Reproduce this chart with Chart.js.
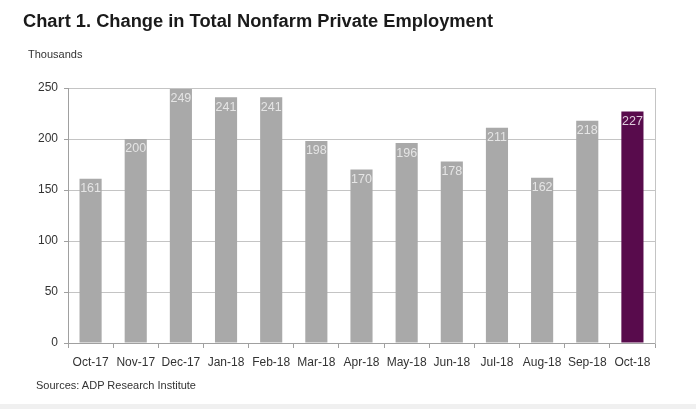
<!DOCTYPE html>
<html>
<head>
<meta charset="utf-8">
<script src="https://cdn.jsdelivr.net/npm/chart.js@4"></script>
<style>
  html, body { margin: 0; padding: 0; background: #fff; }
  body { width: 696px; height: 409px; position: relative; overflow: hidden; font-family: "Liberation Sans", Arial, sans-serif; }
  #wrap { position: absolute; left: 0; top: 0; width: 696px; height: 409px; }
  .title { position: absolute; left: 23px; top: 10px; font-size: 18.3px; font-weight: bold; color: #1a1a1a; white-space: nowrap; }
  .units { position: absolute; left: 28px; top: 48px; font-size: 11px; color: #333; }
  .source { position: absolute; left: 36px; top: 379px; font-size: 11px; color: #333; }
  .strip { position: absolute; left: 0; bottom: 0; width: 696px; height: 5px; background: #f0f0f0; }
</style>
</head>
<body>
<div id="wrap"><canvas id="employmentChart" width="696" height="409"></canvas></div>
<div class="title">Chart 1. Change in Total Nonfarm Private Employment</div>
<div class="units">Thousands</div>
<div class="source">Sources: ADP Research Institute</div>
<div class="strip"></div>
<script>
// Monthly change, thousands
const months = ['Oct-17', 'Nov-17', 'Dec-17', 'Jan-18', 'Feb-18', 'Mar-18', 'Apr-18', 'May-18', 'Jun-18', 'Jul-18', 'Aug-18', 'Sep-18', 'Oct-18'];
const jobs = [161, 200, 249, 241, 241, 198, 170, 196, 178, 211, 162, 218, 227];
const yTicks = [0, 50, 100, 150, 200, 250];

const barColors = jobs.map((v, i) => i === jobs.length - 1 ? '#580b4c' : '#a9a9a9');

// value labels inside the top of each bar
const barLabels = {
  id: 'barLabels',
  afterDatasetsDraw(chart) {
    const ctx = chart.ctx;
    const meta = chart.getDatasetMeta(0);
    ctx.save();
    ctx.font = '12.5px "Liberation Sans", Arial, sans-serif';
    ctx.textAlign = 'center';
    ctx.textBaseline = 'middle';
    meta.data.forEach((bar, i) => {
      ctx.fillStyle = i === jobs.length - 1 ? 'rgba(230,215,228,0.95)' : 'rgba(232,232,232,0.95)';
      ctx.fillText(String(jobs[i]), bar.x, bar.y + 10);
    });
    ctx.restore();
  }
};

new Chart(document.getElementById('employmentChart'), {
  type: 'bar',
  data: {
    labels: months,
    datasets: [{ data: jobs, backgroundColor: barColors, categoryPercentage: 1, barPercentage: 0.49 }],
  },
  options: {
    responsive: false,
    animation: false,
    layout: { padding: { left: 0, right: 41, top: 88, bottom: 0 } },
    plugins: { legend: { display: false }, tooltip: { enabled: false } },
    scales: {
      x: {
        grid: { offset: true, drawOnChartArea: false, drawTicks: true, tickLength: 5, color: '#a0a0a0' },
        border: { color: '#a0a0a0' },
        ticks: { color: '#333', font: { family: 'Liberation Sans', size: 12 }, padding: 7, maxRotation: 0, autoSkip: false },
        afterFit: (s) => { s.height = 66; },
      },
      y: {
        min: 0, max: 250,
        afterBuildTicks: (s) => { s.ticks = yTicks.map(v => ({ value: v })); },
        grid: { color: '#c4c4c4', tickLength: 4, tickColor: '#a0a0a0' },
        border: { color: '#a0a0a0' },
        ticks: { color: '#333', font: { family: 'Liberation Sans', size: 12 }, padding: 6 },
        afterFit: (s) => { s.width = 68; },
      },
      y2: {
        position: 'right', min: 0, max: 250,
        grid: { drawOnChartArea: false, drawTicks: false },
        border: { color: '#c4c4c4' },
        ticks: { display: false },
        afterFit: (s) => { s.width = 0; },
      },
    },
  },
  plugins: [barLabels],
});
</script>
</body>
</html>
